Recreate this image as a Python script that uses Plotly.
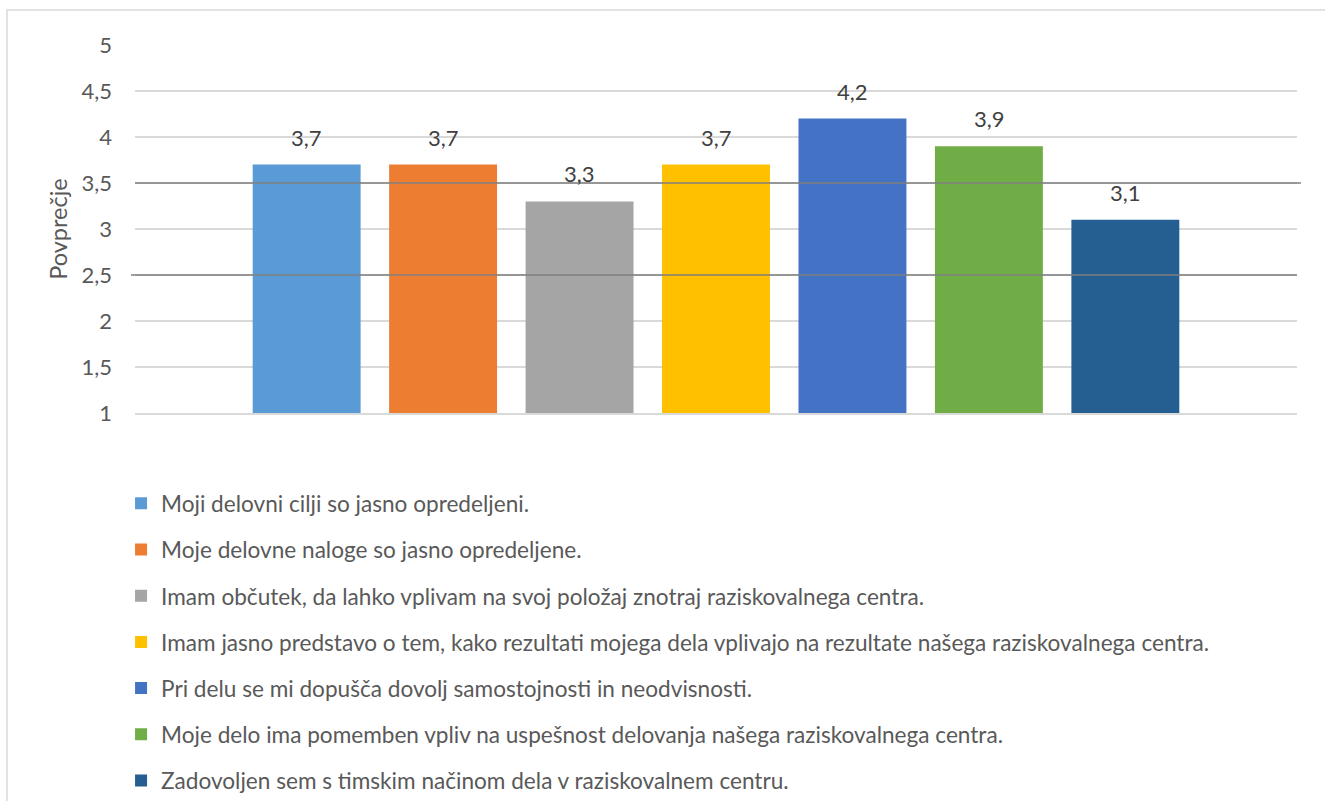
import plotly.graph_objects as go

categories = ["Trditve"]
series_names = [
    "Moji delovni cilji so jasno opredeljeni.",
    "Moje delovne naloge so jasno opredeljene.",
    "Imam občutek, da lahko vplivam na svoj položaj znotraj raziskovalnega centra.",
    "Imam jasno predstavo o tem, kako rezultati mojega dela vplivajo na rezultate našega raziskovalnega centra.",
    "Pri delu se mi dopušča dovolj samostojnosti in neodvisnosti.",
    "Moje delo ima pomemben vpliv na uspešnost delovanja našega raziskovalnega centra.",
    "Zadovoljen sem s timskim načinom dela v raziskovalnem centru.",
]
values = [3.7, 3.7, 3.3, 3.7, 4.2, 3.9, 3.1]
colors = ["#5B9BD5", "#ED7D31", "#A5A5A5", "#FFC000", "#4472C4", "#70AD47", "#255E91"]
y_ticks = [1, 1.5, 2, 2.5, 3, 3.5, 4, 4.5, 5]
ref_lines = [2.5, 3.5]

FONT = "Lato"
TXT = "#595959"
FS = 22

fig = go.Figure()
for i, (name, v, c) in enumerate(zip(series_names, values, colors)):
    fig.add_trace(go.Bar(
        x=categories, y=[v], name=name, marker_color=c, marker_line_width=0,
        legendgroup=f"g{i}", hoverinfo="y+name",
    ))

W, H = 1325, 801
L, R, T, B = 135, 28, 45, 388
pw = W - L - R
ph = H - T - B
slot_px = 136.5

annotations = []
n = len(values)
for i, v in enumerate(values):
    annotations.append(dict(
        x=categories[0], y=v, xref="x", yref="y",
        text=f"{v:.1f}".replace(".", ","), showarrow=False,
        xshift=(i - (n - 1) / 2) * slot_px, yshift=12, yanchor="bottom",
        font=dict(family=FONT, size=FS, color="#404040"),
    ))

shapes = []
for j, yv in enumerate(ref_lines):
    shapes.append(dict(
        type="line", xref="paper", yref="y",
        x0=(-4 / pw) if j == 0 else 0, x1=1 if j == 0 else 1 + 4 / pw,
        y0=yv, y1=yv, line=dict(color="#7F7F7F", width=1.5), layer="above",
    ))
# outer chart border
shapes.append(dict(
    type="rect", xref="paper", yref="paper",
    x0=(7 - L) / pw, x1=(W + 10 - L) / pw,
    y0=(H - B - (H + 10)) / ph, y1=(H - B - 10) / ph,
    line=dict(color="#D9D9D9", width=1.5), fillcolor="rgba(0,0,0,0)", layer="below",
))

fig.update_layout(
    width=W, height=H,
    margin=dict(l=L, r=R, t=T, b=B, autoexpand=False),
    paper_bgcolor="white", plot_bgcolor="white",
    barmode="group", bargap=0.178, bargroupgap=0.209,
    separators=",.",
    font=dict(family=FONT, size=FS, color=TXT),
    showlegend=True,
    legend=dict(
        x=-0.012, y=-0.188, xanchor="left", yanchor="top", xref="paper", yref="paper",
        orientation="v", font=dict(family=FONT, size=22.6, color=TXT),
        tracegroupgap=13.8, itemclick=False, itemdoubleclick=False,
        bgcolor="rgba(0,0,0,0)",
    ),
    xaxis=dict(type="category", range=[-0.5, 0.5], showticklabels=False,
               showgrid=False, zeroline=False,
               showline=True, linecolor="#D9D9D9", linewidth=1.5, fixedrange=True),
    yaxis=dict(
        range=[1, 5], tickvals=y_ticks, tickformat=".1~f",
        showgrid=True, gridcolor="#D9D9D9", gridwidth=1.5, zeroline=False,
        showline=False, ticks="", ticklabelstandoff=22,
        tickfont=dict(family=FONT, size=FS, color=TXT),
        title=dict(text="Povprečje", standoff=7,
                   font=dict(family=FONT, size=23.5, color=TXT)),
        fixedrange=True,
    ),
    annotations=annotations, shapes=shapes,
)

fig.write_html(
    "out.html",
    config={"displayModeBar": False},
    post_script="document.body.style.margin='0';document.body.style.padding='0';",
)
